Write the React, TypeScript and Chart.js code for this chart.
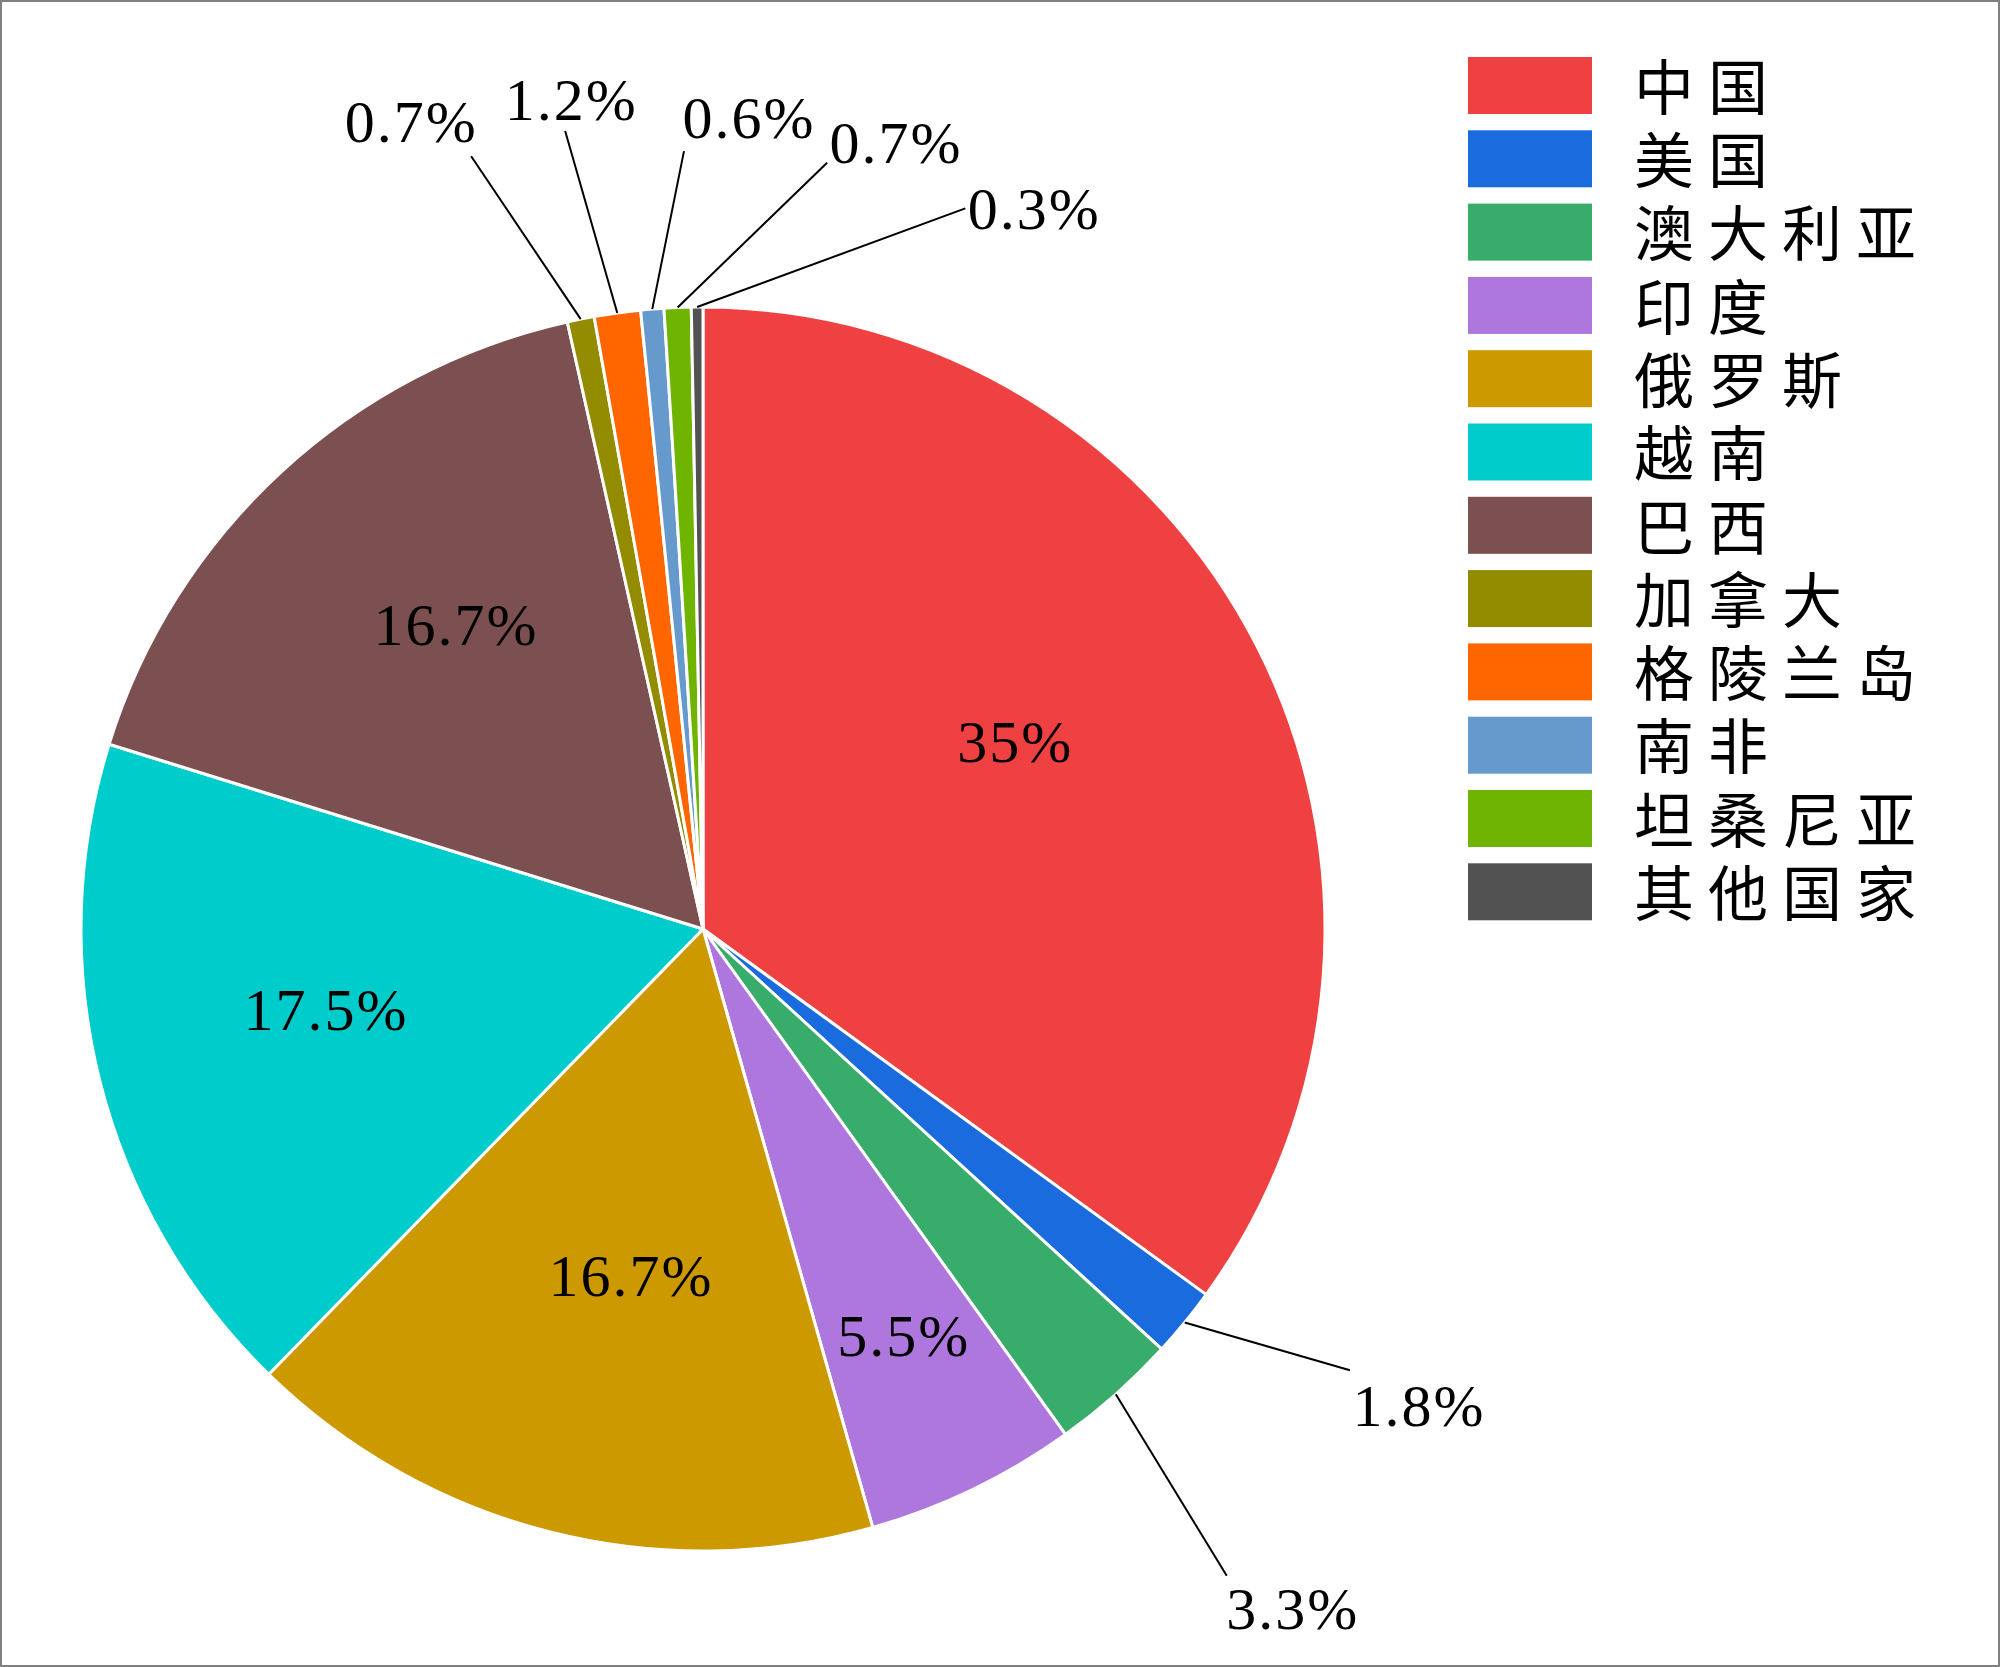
import React, { useEffect, useRef } from 'react';
import { Chart, registerables } from 'chart.js';

Chart.register(...registerables);

const countries = ['中国', '美国', '澳大利亚', '印度', '俄罗斯', '越南', '巴西', '加拿大', '格陵兰岛', '南非', '坦桑尼亚', '其他国家'];
const shares = [35, 1.8, 3.3, 5.5, 16.7, 17.5, 16.7, 0.7, 1.2, 0.6, 0.7, 0.3];
const percentLabels = ['35%', '1.8%', '3.3%', '5.5%', '16.7%', '17.5%', '16.7%', '0.7%', '1.2%', '0.6%', '0.7%', '0.3%'];
const sliceColors = ['#EF4141', '#1A6BDD', '#38AC6A', '#AE77DD', '#CC9900', '#00CCCC', '#7C5050', '#938B00', '#FF6600', '#6699CC', '#6FB500', '#525252'];

// label placement (style): inside labels use radius factor + angle tweak; outside labels use leader line end (deg from top, radius factor) + text offset
const labelLayout: any[] = [
  { inside: true, r: 0.585, dA: -3.9 },
  { inside: false, angle: 124.3, r: 1.259, dx: 69, dy: 36 },
  { inside: false, angle: 141.0, r: 1.338, dx: 66, dy: 33 },
  { inside: true, r: 0.73, dA: -0.5 },
  { inside: true, r: 0.57, dA: -2.5 },
  { inside: true, r: 0.62, dA: 2.1 },
  { inside: true, r: 0.63, dA: 3.6 },
  { inside: false, angle: -16.7, r: 1.297, dx: -60, dy: -34 },
  { inside: false, angle: -9.8, r: 1.302, dx: 6, dy: -31 },
  { inside: false, angle: -1.4, r: 1.251, dx: 65, dy: -33 },
  { inside: false, angle: 9.2, r: 1.248, dx: 69, dy: -20 },
  { inside: false, angle: 20.0, r: 1.233, dx: 69, dy: 1 },
];

const NUM_FONT = '60px "Liberation Serif", "Times New Roman", serif';
const CJK_FONT = '60px "Noto Sans CJK SC", sans-serif';

const frameAndBg = {
  id: 'frameAndBg',
  beforeDraw(chart: any) {
    const { ctx, width, height } = chart;
    ctx.save();
    ctx.fillStyle = '#ffffff';
    ctx.fillRect(0, 0, width, height);
    ctx.restore();
  },
  afterDraw(chart: any) {
    const { ctx, width, height } = chart;
    ctx.save();
    ctx.strokeStyle = '#808080';
    ctx.lineWidth = 2;
    ctx.strokeRect(1, 1, width - 2, height - 2);
    ctx.restore();
  },
};

const pieLabels = {
  id: 'pieLabels',
  afterDatasetsDraw(chart: any) {
    const { ctx } = chart;
    const meta = chart.getDatasetMeta(0);
    ctx.save();
    ctx.font = NUM_FONT;
    ctx.fillStyle = '#000';
    ctx.strokeStyle = '#000';
    ctx.lineWidth = 2;
    (ctx as any).letterSpacing = '2px';
    ctx.textAlign = 'center';
    ctx.textBaseline = 'alphabetic';
    meta.data.forEach((arc: any, i: number) => {
      const lay = labelLayout[i];
      const { x, y, startAngle, endAngle, outerRadius } = arc.getProps(['x', 'y', 'startAngle', 'endAngle', 'outerRadius'], true);
      const mid = (startAngle + endAngle) / 2;
      const text = percentLabels[i];
      if (lay.inside) {
        const a = mid + (lay.dA * Math.PI) / 180;
        const tx = x + Math.cos(a) * outerRadius * lay.r;
        const ty = y + Math.sin(a) * outerRadius * lay.r;
        ctx.fillText(text, tx, ty + 20);
      } else {
        const sx = x + Math.cos(mid) * outerRadius;
        const sy = y + Math.sin(mid) * outerRadius;
        const a = ((lay.angle - 90) * Math.PI) / 180;
        const ex = x + Math.cos(a) * outerRadius * lay.r;
        const ey = y + Math.sin(a) * outerRadius * lay.r;
        ctx.beginPath();
        ctx.moveTo(sx, sy);
        ctx.lineTo(ex, ey);
        ctx.stroke();
        ctx.fillText(text, ex + lay.dx, ey + lay.dy + 20);
      }
    });
    ctx.restore();
  },
};

const customLegend = {
  id: 'customLegend',
  afterDraw(chart: any) {
    const { ctx } = chart;
    const labels = chart.data.labels as string[];
    const bg = chart.data.datasets[0].backgroundColor as string[];
    ctx.save();
    ctx.font = CJK_FONT;
    (ctx as any).letterSpacing = '14px';
    ctx.textAlign = 'left';
    ctx.textBaseline = 'middle';
    labels.forEach((lab, i) => {
      const top = 57 + i * 73.3;
      ctx.fillStyle = bg[i];
      ctx.fillRect(1468, top, 124, 57);
      ctx.fillStyle = '#000';
      ctx.fillText(lab, 1634, top + 30);
    });
    ctx.restore();
  },
};

export default function App() {
  const canvasRef = useRef<HTMLCanvasElement | null>(null);

  useEffect(() => {
    const canvas = canvasRef.current;
    if (!canvas) return;
    const chart = new Chart(canvas, {
      type: 'pie',
      data: {
        labels: countries,
        datasets: [
          {
            data: shares,
            backgroundColor: sliceColors,
            borderColor: '#ffffff',
            borderWidth: 3,
            hoverOffset: 0,
          } as any,
        ],
      },
      options: {
        responsive: false,
        animation: false,
        devicePixelRatio: 1,
        radius: 622,
        layout: { padding: { left: 0, right: 594, top: 191, bottom: 0 } },
        plugins: {
          legend: { display: false },
          tooltip: { enabled: false },
        },
      } as any,
      plugins: [frameAndBg, pieLabels, customLegend],
    });
    return () => chart.destroy();
  }, []);

  return (
    <div style={{ position: 'fixed', left: 0, top: 0, width: 2000, height: 1667, background: '#fff' }}>
      <canvas ref={canvasRef} width={2000} height={1667} style={{ width: 2000, height: 1667, display: 'block' }} />
    </div>
  );
}
